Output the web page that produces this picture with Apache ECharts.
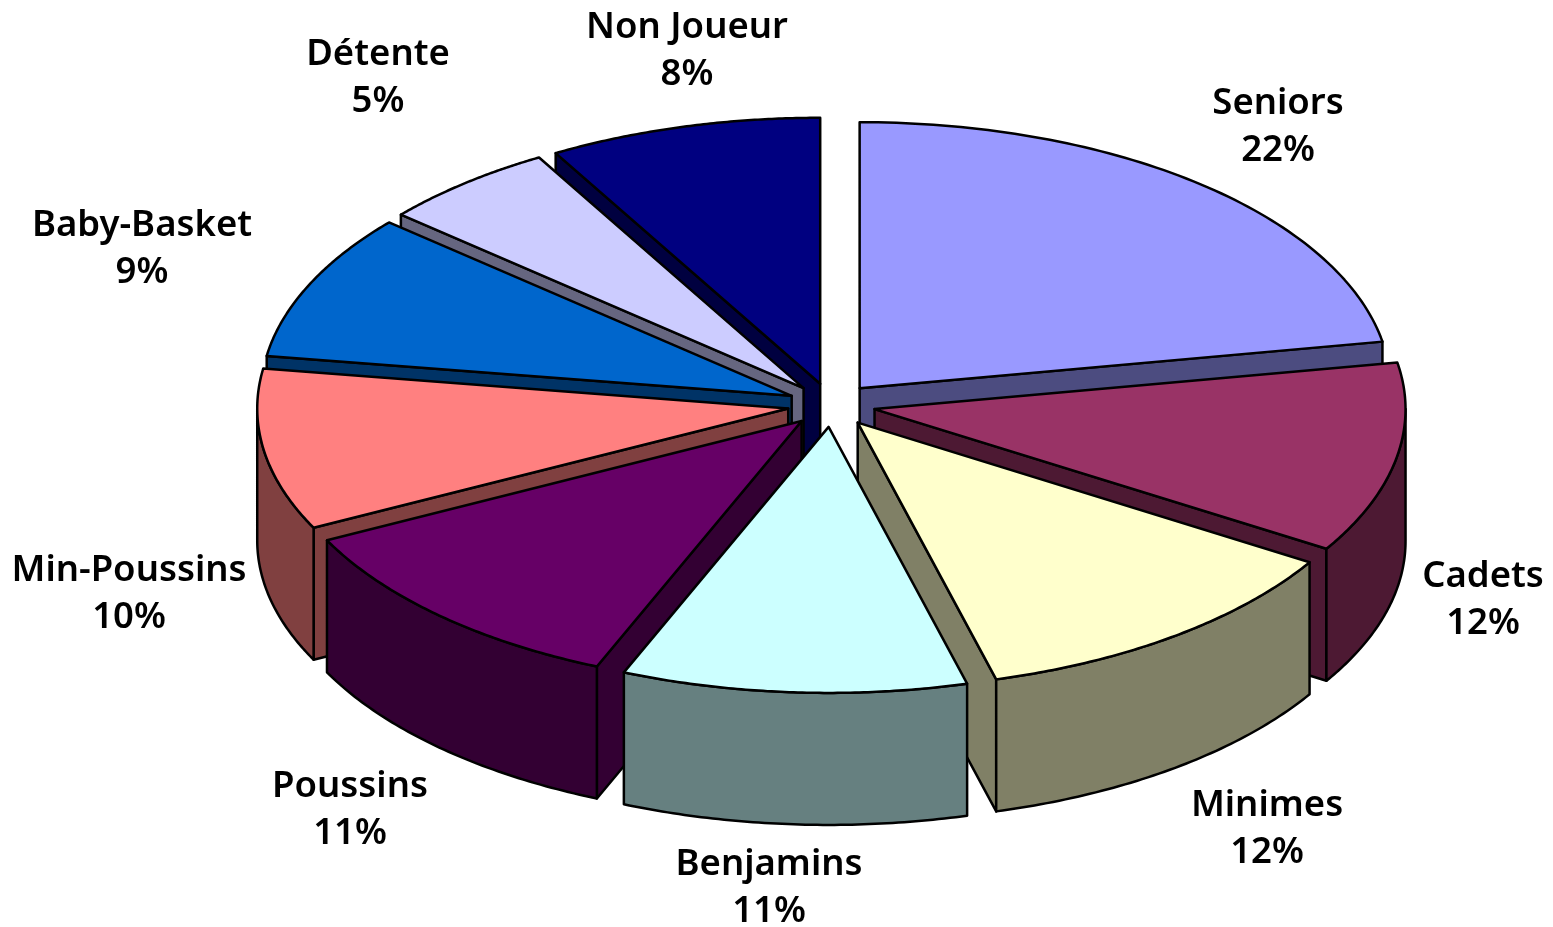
<!DOCTYPE html>
<html>
<head>
<meta charset="utf-8">
<title>Licences</title>
<script src="https://cdn.jsdelivr.net/npm/echarts@6/dist/echarts.min.js"></script>
<style>
html, body { margin: 0; padding: 0; background: #fff; }
#main { width: 1553px; height: 927px; }
</style>
</head>
<body>
<div id="main"></div>
<script>
// categories, clockwise from 12 o'clock
var categories = ['Seniors', 'Cadets', 'Minimes', 'Benjamins', 'Poussins', 'Min-Poussins', 'Baby-Basket', 'Détente', 'Non Joueur'];
// shares read from the wedges, they round to the printed labels
var shares = [22.2, 11.6, 12, 10.5, 11.3, 9.8, 8.9, 5.4, 8.3];
var topColors = ['#9999FF', '#993366', '#FFFFCC', '#CCFFFF', '#660066', '#FF8080', '#0066CC', '#CCCCFF', '#000080'];
var sideColors = ['#4C4C80', '#4D1933', '#808066', '#668080', '#330033', '#804040', '#003366', '#666680', '#000040'];
// centre of each label
var labelX = [1278, 1483, 1267, 769, 350, 129, 142, 378, 687];
var labelY = [127, 600, 829, 888, 810, 594, 249, 78, 51];

// pie geometry
var cx = 831.5, cy = 405;
var rx = 531, ry = 266;
var depth = 132;
var explode = 0.0825;

var total = shares.reduce(function (a, b) { return a + b; }, 0);

function pt(ox, oy, angle, down) {
	return [ox + rx * Math.sin(angle), oy - ry * Math.cos(angle) + (down || 0)];
}

function face(points, fill, z2) {
	return {
		type: 'polygon',
		z2: z2,
		shape: { points: points },
		style: { fill: fill, stroke: '#000', lineWidth: 2.5, lineJoin: 'round' }
	};
}

function renderSlice(params, api) {
	var i = api.value(0);
	var before = 0;
	for (var k = 0; k < i; k++) before += shares[k];
	var a1 = before / total * Math.PI * 2;
	var a2 = (before + shares[i]) / total * Math.PI * 2;
	var mid = (a1 + a2) / 2;
	// apex moved out along the middle of the wedge
	var ox = cx + rx * explode * Math.sin(mid);
	var oy = cy - ry * explode * Math.cos(mid);
	var apex = [ox, oy];
	var apexLow = [ox, oy + depth];
	var base = Math.round((1 - Math.cos(mid)) * 1000);
	var children = [];

	// walls that face the viewer
	if (Math.sin(a1) < 0) {
		children.push(face([apex, pt(ox, oy, a1), pt(ox, oy, a1, depth), apexLow], sideColors[i], base));
	}
	if (Math.sin(a2) > 0) {
		children.push(face([apex, pt(ox, oy, a2), pt(ox, oy, a2, depth), apexLow], sideColors[i], base + 1));
	}
	var from = Math.max(a1, Math.PI / 2);
	var to = Math.min(a2, Math.PI * 1.5);
	if (to > from) {
		var rim = [], low = [];
		for (var s = 0; s <= 60; s++) {
			var a = from + (to - from) * s / 60;
			rim.push(pt(ox, oy, a));
			low.unshift(pt(ox, oy, a, depth));
		}
		children.push(face(rim.concat(low), sideColors[i], base + 2));
	}
	// top
	var top = [apex];
	for (var t = 0; t <= 80; t++) {
		top.push(pt(ox, oy, a1 + (a2 - a1) * t / 80));
	}
	children.push(face(top, topColors[i], base + 3));
	// label
	children.push({
		type: 'text',
		z2: 5000,
		style: {
			text: categories[i] + '\n' + Math.round(shares[i]) + '%',
			x: labelX[i],
			y: labelY[i],
			align: 'center',
			verticalAlign: 'middle',
			fontFamily: 'Noto Sans',
			fontWeight: 600,
			fontSize: 36.5,
			lineHeight: 47,
			fill: '#000'
		}
	});
	return { type: 'group', children: children };
}

var myChart = echarts.init(document.getElementById('main'));
myChart.setOption({
	backgroundColor: '#fff',
	animation: false,
	series: [{
		type: 'custom',
		coordinateSystem: 'none',
		renderItem: renderSlice,
		data: categories.map(function (name, i) { return { name: name, value: [i] }; })
	}]
});
</script>
</body>
</html>
